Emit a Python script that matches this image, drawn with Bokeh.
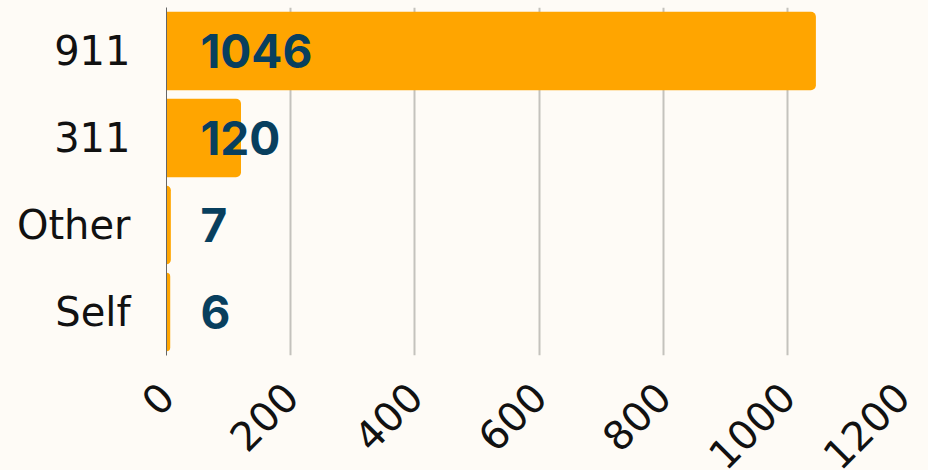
from bokeh.plotting import figure
from bokeh.models import ColumnDataSource, FixedTicker, Range1d
from bokeh.embed import file_html
from bokeh.resources import INLINE
import math

categories = ["911", "311", "Other", "Self"]
counts = [1046, 120, 7, 6]
x_ticks = [0, 200, 400, 600, 800, 1000, 1200]

BG = "#fefbf6"
AXFONT = "DejaVu Sans"
VALFONT = "Inter"

src = ColumnDataSource(dict(cat=categories, n=counts, lbl=[str(c) for c in counts],
                            zero=[0] * len(counts)))

p = figure(frame_width=745, frame_height=348, y_range=list(reversed(categories)),
           x_range=Range1d(0, 1200), output_backend="svg", toolbar_location=None,
           min_border_left=166, min_border_right=1, min_border_top=7, min_border_bottom=0)
p.background_fill_color = BG
p.border_fill_color = BG
p.outline_line_color = None

p.hbar(y="cat", left=0, right="n", height=0.9, source=src, color="#ffa500",
       line_color=None, border_radius=(0, 5, 5, 0))
p.text(x="zero", y="cat", text="lbl", source=src, x_offset=34,
       text_align="left", text_baseline="middle", text_color="#083f5e",
       text_font_size="46px", text_font_style="bold", text_font={"value": VALFONT})

p.xaxis.ticker = FixedTicker(ticks=x_ticks)
p.xgrid.ticker = FixedTicker(ticks=x_ticks)
p.xgrid.grid_line_color = "#c4c2bd"
p.xgrid.grid_line_width = 2
p.ygrid.grid_line_color = None

p.xaxis.axis_line_color = None
p.xaxis.major_tick_line_color = None
p.xaxis.minor_tick_line_color = None
p.xaxis.major_label_orientation = math.pi / 4
p.xaxis.major_label_text_font = AXFONT
p.xaxis.major_label_text_font_size = "40px"
p.xaxis.major_label_text_color = "#111111"
p.xaxis.major_label_standoff = 28

p.yaxis.axis_line_color = "#666666"
p.yaxis.axis_line_width = 1
p.yaxis.major_tick_line_color = None
p.yaxis.minor_tick_line_color = None
p.yaxis.major_label_text_font = AXFONT
p.yaxis.major_label_text_font_size = "40px"
p.yaxis.major_label_text_color = "#111111"
p.yaxis.major_label_standoff = 30

html = file_html(p, INLINE)
html = html.replace("<head>", "<head><style>html, body {background: %s; overflow: hidden;}</style>" % BG, 1)
open("out.html", "w").write(html)
